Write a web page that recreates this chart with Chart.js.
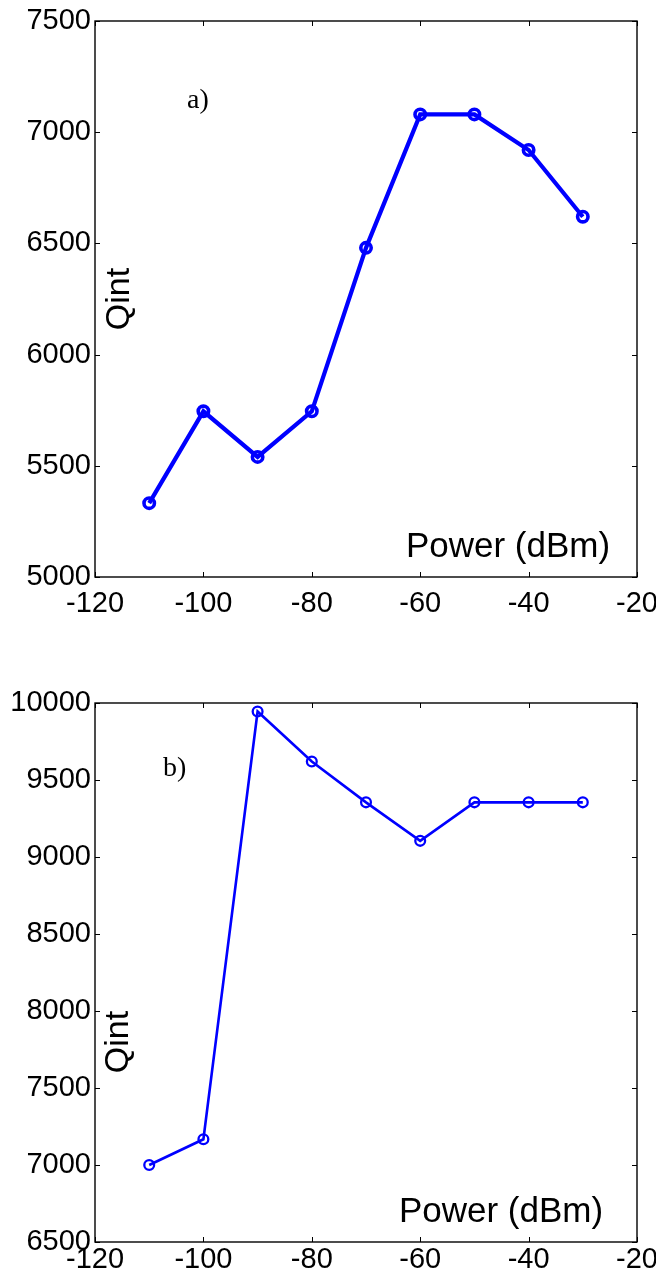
<!DOCTYPE html>
<html><head><meta charset="utf-8">
<script src="https://cdn.jsdelivr.net/npm/chart.js@4.4.0/dist/chart.umd.min.js"></script>
<style>
html,body{margin:0;padding:0;background:#fff;width:656px;height:1277px;overflow:hidden}
.wrap{position:absolute;left:0;width:656px}
</style></head><body>
<div class="wrap" style="top:0;height:640px"><canvas id="c1"></canvas></div>
<div class="wrap" style="top:640px;height:637px"><canvas id="c2"></canvas></div>
<script>
const powerDbm = [-110, -100, -90, -80, -70, -60, -50, -40, -30];
const qintA = [5332, 5745, 5540, 5745, 6480, 7080, 7080, 6920, 6620];
const qintB = [7000, 7167, 9945, 9620, 9355, 9105, 9355, 9355, 9355];
const xTicks = [-120, -100, -80, -60, -40, -20];
const yTicksA = [5000, 5500, 6000, 6500, 7000, 7500];
const yTicksB = [6500, 7000, 7500, 8000, 8500, 9000, 9500, 10000];
const xTitle = 'Power (dBm)';
const yTitle = 'Qint';

const SANS = '"Liberation Sans", Arial, sans-serif';
const SERIF = '"Liberation Serif", "Times New Roman", serif';

const framePlugin = {
  id: 'frame',
  beforeDatasetsDraw(chart) {
    const { ctx, chartArea: a, scales: { x, y } } = chart;
    ctx.save();
    ctx.strokeStyle = '#000';
    ctx.lineWidth = 1;
    const L = 5;
    ctx.beginPath();
    x.ticks.forEach(t => {
      const px = Math.round(x.getPixelForValue(t.value)) + 0.5;
      ctx.moveTo(px, a.bottom); ctx.lineTo(px, a.bottom - L);
      ctx.moveTo(px, a.top); ctx.lineTo(px, a.top + L);
    });
    y.ticks.forEach(t => {
      const py = Math.round(y.getPixelForValue(t.value)) + 0.5;
      ctx.moveTo(a.left, py); ctx.lineTo(a.left + L, py);
      ctx.moveTo(a.right, py); ctx.lineTo(a.right - L, py);
    });
    ctx.stroke();
    ctx.lineWidth = 1.4;
    ctx.strokeRect(a.left, a.top, a.right - a.left, a.bottom - a.top);
    ctx.restore();
  },
  afterDraw(chart, args, opts) {
    const { ctx } = chart;
    ctx.save();
    ctx.fillStyle = '#000';
    ctx.textBaseline = 'alphabetic';
    ctx.font = '35px ' + SANS;
    ctx.textAlign = 'center';
    ctx.fillText(xTitle, opts.xt[0], opts.xt[1]);
    ctx.font = '34px ' + SANS;
    ctx.save();
    ctx.translate(opts.yt[0], opts.yt[1]);
    ctx.rotate(-Math.PI / 2);
    ctx.fillText(yTitle, 0, 0);
    ctx.restore();
    ctx.font = '28px ' + SERIF;
    ctx.textAlign = 'left';
    ctx.fillText(opts.tag, opts.tg[0], opts.tg[1]);
    ctx.restore();
  }
};

function makeChart(id, values, yTicks, cfg) {
  const pts = powerDbm.map((p, i) => ({ x: p, y: values[i] }));
  return new Chart(document.getElementById(id), {
    type: 'line',
    data: {
      datasets: [{
        data: pts,
        borderColor: '#0000ff',
        borderWidth: cfg.lw,
        pointRadius: cfg.pr,
        pointBorderWidth: cfg.pbw,
        pointBorderColor: '#0000ff',
        pointBackgroundColor: 'rgba(0,0,0,0)',
        tension: 0,
        fill: false
      }]
    },
    options: {
      responsive: true,
      maintainAspectRatio: false,
      animation: false,
      events: [],
      layout: { padding: { top: cfg.top, right: 19, left: 0, bottom: 0 } },
      plugins: {
        legend: { display: false },
        tooltip: { enabled: false },
        frame: cfg.frame
      },
      scales: {
        x: {
          type: 'linear',
          min: xTicks[0], max: xTicks[xTicks.length - 1],
          afterBuildTicks: s => { s.ticks = xTicks.map(v => ({ value: v })); },
          afterFit: s => { s.height = cfg.xh; s.paddingLeft = 0; s.paddingRight = 0; },
          grid: { display: false, drawTicks: false },
          border: { display: false },
          ticks: {
            color: '#000', padding: cfg.xpad, maxRotation: 0, autoSkip: false,
            font: { family: SANS, size: 29 },
            callback: v => String(v)
          }
        },
        y: {
          type: 'linear',
          min: yTicks[0], max: yTicks[yTicks.length - 1],
          afterBuildTicks: s => { s.ticks = yTicks.map(v => ({ value: v })); },
          afterFit: s => { s.width = 95; s.paddingTop = 0; s.paddingBottom = 0; },
          grid: { display: false, drawTicks: false },
          border: { display: false },
          ticks: {
            color: '#000', padding: 4, autoSkip: false,
            font: { family: SANS, size: 29 },
            callback: v => String(v)
          }
        }
      }
    },
    plugins: [framePlugin]
  });
}

makeChart('c1', qintA, yTicksA, {
  top: 21, xh: 63, xpad: 10, lw: 4.2, pr: 5.2, pbw: 3.6,
  frame: { xt: [508, 557], yt: [129, 299], tag: 'a)', tg: [187, 108] }
});
makeChart('c2', qintB, yTicksB, {
  top: 63, xh: 35, xpad: 1, lw: 2.6, pr: 4.9, pbw: 2.3,
  frame: { xt: [501, 582], yt: [128, 402], tag: 'b)', tg: [163, 136] }
});
</script>
</body></html>
